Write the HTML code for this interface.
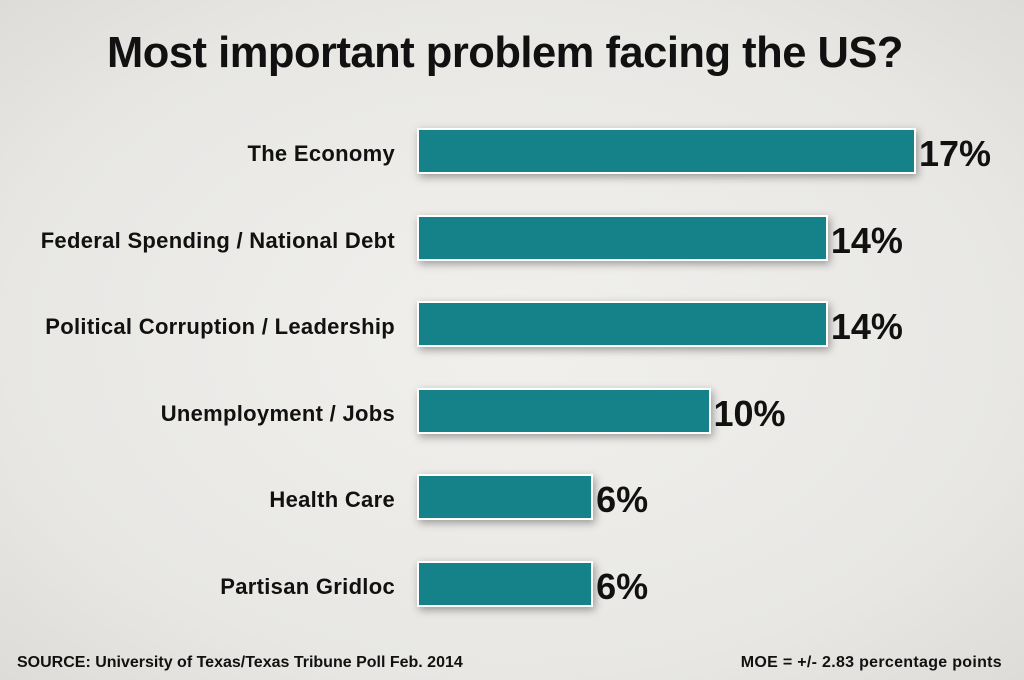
<!DOCTYPE html>
<html><head><meta charset="utf-8"><style>
body{margin:0;width:1024px;height:680px;overflow:hidden;background:#ebeae7;font-family:"Liberation Sans",sans-serif;}
#wrap{position:relative;width:1024px;height:680px;background:radial-gradient(ellipse at center,#f1f0ed 0%,#e8e7e4 70%,#dddcd9 100%);}
.title{position:absolute;left:0;width:1010px;top:29px;text-align:center;font-size:43.5px;font-weight:bold;color:#111;letter-spacing:-0.5px;}
.lbl{position:absolute;right:629px;font-size:22px;font-weight:bold;color:#111;white-space:nowrap;transform:translateY(-50%);letter-spacing:0.3px;}
.bar{position:absolute;left:417px;height:42px;background:#148288;border:2px solid #fff;box-shadow:2px 3px 8px rgba(0,0,0,0.35);transform:translateY(-50%);}
.val{position:absolute;font-size:36px;font-weight:bold;color:#111;transform:translateY(-50%);}
.foot{position:absolute;top:654px;font-size:16px;font-weight:bold;color:#111;}
</style></head><body>
<div id="wrap">
<div class="title">Most important problem facing the US?</div>
<div id="bars"></div>
<div class="foot" style="left:17px">SOURCE: University of Texas/Texas Tribune Poll Feb. 2014</div>
<div class="foot" style="right:22px;letter-spacing:0.3px">MOE = +/- 2.83 percentage points</div>
</div>
<script>
const categories=["The Economy","Federal Spending / National Debt","Political Corruption / Leadership","Unemployment / Jobs","Health Care","Partisan Gridloc"];
const values=[17,14,14,10,6,6];
const x=v=>v*29.35;
const y=i=>151+i*86.6;
const root=document.getElementById('bars');
categories.forEach((c,i)=>{
  const l=document.createElement('div');l.className='lbl';l.style.top=(y(i)+3)+'px';l.textContent=c;
  
  
  root.appendChild(l);
  const b=document.createElement('div');b.className='bar';b.style.top=y(i)+'px';b.style.width=(x(values[i])-4)+'px';
  
  
  root.appendChild(b);
  const v=document.createElement('div');v.className='val';v.style.top=(y(i)+3)+'px';v.style.left=(417+x(values[i])+3)+'px';v.textContent=values[i]+'%';
  
  
  root.appendChild(v);
});
</script>
</body></html>
